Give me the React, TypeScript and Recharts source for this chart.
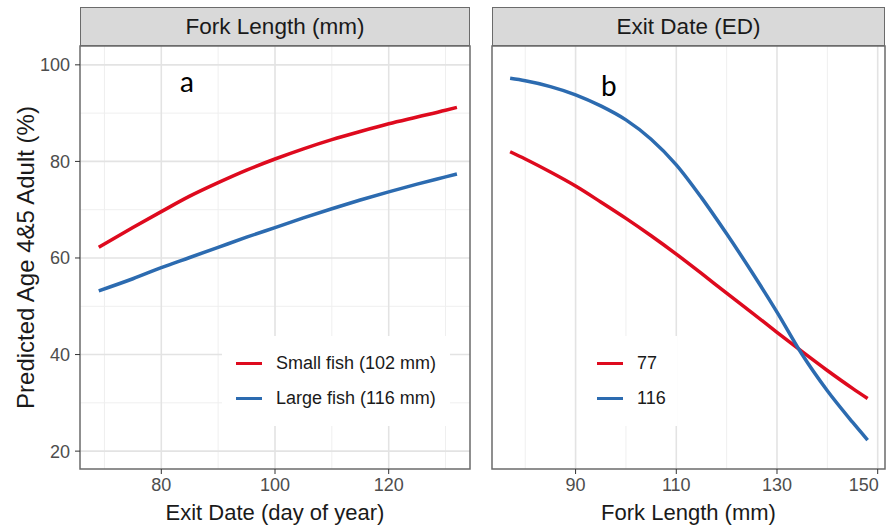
import {
  LineChart,
  Line,
  XAxis,
  YAxis,
  CartesianGrid,
  Legend,
  Label,
  ReferenceArea,
} from "recharts";

// panel a: predicted % by exit date (day of year)
const exitDays = [69, 75, 80, 85, 90, 95, 100, 105, 110, 115, 120, 125, 130, 132];
const smallFishPct = [62.2, 66.3, 69.6, 72.8, 75.6, 78.2, 80.5, 82.6, 84.5, 86.2, 87.8, 89.2, 90.6, 91.2];
const largeFishPct = [53.2, 55.7, 58.0, 60.1, 62.2, 64.3, 66.3, 68.3, 70.2, 72.0, 73.7, 75.3, 76.8, 77.4];

// panel b: predicted % by fork length (mm)
const forkLengths = [77, 80, 85, 90, 95, 100, 105, 110, 115, 120, 125, 130, 135, 140, 145, 148];
const exit77Pct = [82.0, 80.5, 77.8, 74.9, 71.6, 68.2, 64.6, 60.8, 56.8, 52.7, 48.7, 44.6, 40.6, 36.7, 33.0, 30.9];
const exit116Pct = [97.2, 96.7, 95.5, 93.8, 91.5, 88.6, 84.6, 79.3, 72.5, 65.0, 57.1, 48.8, 40.0, 32.5, 26.0, 22.3];

const yTicks = [20, 40, 60, 80, 100];
const yMinor = [30, 50, 70, 90];
const xTicksA = [80, 100, 120];
const xMinorA = [70, 90, 110, 130];
const xTicksB = [90, 110, 130, 150];
const xMinorB = [80, 100, 120, 140];

const legendA = ["Small fish (102 mm)", "Large fish (116 mm)"];
const legendB = ["77", "116"];

const panelA = exitDays.map((d, i) => ({
  day: d,
  small: smallFishPct[i],
  large: largeFishPct[i],
}));
const panelB = forkLengths.map((fl, i) => ({
  fl,
  ed77: exit77Pct[i],
  ed116: exit116Pct[i],
}));

const RED = "#de0a1e";
const BLUE = "#2c6bb0";
const FONT = '"Liberation Sans", Arial, sans-serif';
const Y_DOMAIN: [number, number] = [16.3, 103.9];
const X_DOMAIN_A: [number, number] = [65.7, 134.3];
const X_DOMAIN_B: [number, number] = [73.4, 151.45];

const tickStyle = { fontSize: 18, fill: "#4d4d4d", fontFamily: FONT };
const titleStyle = { fontSize: 22, fill: "#1a1a1a", fontFamily: FONT };

function LegendBox({ payload, width, order }: any) {
  const items = [...(payload || [])].sort(
    (a: any, b: any) => order.indexOf(a.value) - order.indexOf(b.value)
  );
  return (
    <div
      style={{
        background: "#fff",
        width,
        padding: "10px 0 10px 14px",
        boxSizing: "border-box",
        fontFamily: FONT,
        fontSize: 18,
        color: "#1a1a1a",
        whiteSpace: "nowrap",
      }}
    >
      {items.map((p: any) => (
        <div
          key={p.value}
          style={{ height: 35, display: "flex", alignItems: "center" }}
        >
          <span
            style={{
              display: "inline-block",
              flex: "none",
              width: 26,
              height: 3.5,
              background: p.color,
              marginRight: 14,
            }}
          />
          <span>{p.value}</span>
        </div>
      ))}
    </div>
  );
}

// last x label on panel b sits left of its tick so it stays inside the figure
function TickB({ x, y, payload }: any) {
  const last = payload.value === xTicksB[xTicksB.length - 1];
  return (
    <text
      x={last ? x + 1 : x}
      y={y}
      dy="0.71em"
      textAnchor={last ? "end" : "middle"}
      {...tickStyle}
    >
      {payload.value}
    </text>
  );
}

function Strip({ left, width, text }: { left: number; width: number; text: string }) {
  return (
    <div
      style={{
        position: "absolute",
        left,
        top: 7,
        width,
        height: 39,
        boxSizing: "border-box",
        background: "#d9d9d9",
        border: "1px solid #6b6b6b",
        fontFamily: FONT,
        fontSize: 22.5,
        color: "#1a1a1a",
        display: "flex",
        alignItems: "center",
        justifyContent: "center",
      }}
    >
      {text}
    </div>
  );
}

function Tag({ x, y, text }: { x: number; y: number; text: string }) {
  return (
    <div
      style={{
        position: "absolute",
        left: x,
        top: y,
        fontFamily: "Lato, sans-serif",
        fontSize: 28,
        color: "#000",
        lineHeight: 1,
      }}
    >
      {text}
    </div>
  );
}

export default function App() {
  return (
    <div
      style={{
        position: "absolute",
        left: 0,
        top: 0,
        width: 887,
        height: 529,
        background: "#fff",
        overflow: "hidden",
      }}
    >
      <div style={{ position: "absolute", left: 0, top: 0 }}>
        <LineChart
          width={480}
          height={529}
          data={panelA}
          margin={{ top: 46, right: 10, bottom: 0, left: 0 }}
        >
          <CartesianGrid
            horizontalValues={yMinor}
            verticalValues={xMinorA}
            stroke="#efefef"
            strokeWidth={1}
          />
          <CartesianGrid
            horizontalValues={yTicks}
            verticalValues={xTicksA}
            stroke="#e3e3e3"
            strokeWidth={1.6}
          />
          <XAxis
            dataKey="day"
            type="number"
            domain={X_DOMAIN_A}
            ticks={xTicksA}
            interval={0}
            height={60}
            axisLine={false}
            stroke="#333"
            tickSize={5}
            tickMargin={4}
            tick={tickStyle}
          >
            <Label
              value="Exit Date (day of year)"
              position="insideBottom"
              offset={9}
              style={titleStyle}
            />
          </XAxis>
          <YAxis
            type="number"
            domain={Y_DOMAIN}
            ticks={yTicks}
            interval={0}
            width={80}
            axisLine={false}
            stroke="#333"
            tickSize={5}
            tickMargin={5}
            tick={tickStyle}
          >
            <Label
              value="Predicted Age 4&5 Adult (%)"
              angle={-90}
              position="insideLeft"
              offset={25}
              style={{ ...titleStyle, fontSize: 24, textAnchor: "middle" }}
            />
          </YAxis>
          <ReferenceArea
            x1={X_DOMAIN_A[0]}
            x2={X_DOMAIN_A[1]}
            y1={Y_DOMAIN[0]}
            y2={Y_DOMAIN[1]}
            fill="none"
            stroke="#6b6b6b"
            strokeWidth={1.5}
          />
          <Legend
            layout="horizontal"
            align="center"
            verticalAlign="middle"
            wrapperStyle={{ left: 222, top: 336, width: 228 }}
            content={(props: any) => (
              <LegendBox {...props} width={228} order={legendA} />
            )}
          />
          <Line
            type="monotone"
            dataKey="small"
            name={legendA[0]}
            stroke={RED}
            strokeWidth={3.5}
            dot={false}
            isAnimationActive={false}
          />
          <Line
            type="monotone"
            dataKey="large"
            name={legendA[1]}
            stroke={BLUE}
            strokeWidth={3.5}
            dot={false}
            isAnimationActive={false}
          />
        </LineChart>
      </div>

      <div style={{ position: "absolute", left: 480, top: 0 }}>
        <LineChart
          width={407}
          height={529}
          data={panelB}
          margin={{ top: 46, right: 2, bottom: 0, left: 0 }}
        >
          <CartesianGrid
            horizontalValues={yMinor}
            verticalValues={xMinorB}
            stroke="#efefef"
            strokeWidth={1}
          />
          <CartesianGrid
            horizontalValues={yTicks}
            verticalValues={xTicksB}
            stroke="#e3e3e3"
            strokeWidth={1.6}
          />
          <XAxis
            dataKey="fl"
            type="number"
            domain={X_DOMAIN_B}
            ticks={xTicksB}
            interval={0}
            height={60}
            axisLine={false}
            stroke="#333"
            tickSize={5}
            tickMargin={4}
            tick={<TickB />}
          >
            <Label
              value="Fork Length (mm)"
              position="insideBottom"
              offset={9}
              style={titleStyle}
            />
          </XAxis>
          <YAxis
            type="number"
            domain={Y_DOMAIN}
            ticks={yTicks}
            interval={0}
            width={12}
            axisLine={false}
            stroke="#333"
            tickSize={5}
            tick={false}
          />
          <ReferenceArea
            x1={X_DOMAIN_B[0]}
            x2={X_DOMAIN_B[1]}
            y1={Y_DOMAIN[0]}
            y2={Y_DOMAIN[1]}
            fill="none"
            stroke="#6b6b6b"
            strokeWidth={1.5}
          />
          <Legend
            layout="horizontal"
            align="center"
            verticalAlign="middle"
            wrapperStyle={{ left: 103, top: 336, width: 94 }}
            content={(props: any) => (
              <LegendBox {...props} width={94} order={legendB} />
            )}
          />
          <Line
            type="monotone"
            dataKey="ed77"
            name={legendB[0]}
            stroke={RED}
            strokeWidth={3.5}
            dot={false}
            isAnimationActive={false}
          />
          <Line
            type="monotone"
            dataKey="ed116"
            name={legendB[1]}
            stroke={BLUE}
            strokeWidth={3.5}
            dot={false}
            isAnimationActive={false}
          />
        </LineChart>
      </div>

      <Strip left={80} width={390} text="Fork Length (mm)" />
      <Strip left={492} width={393} text="Exit Date (ED)" />
      <Tag x={180} y={67} text="a" />
      <Tag x={601} y={71} text="b" />
    </div>
  );
}
